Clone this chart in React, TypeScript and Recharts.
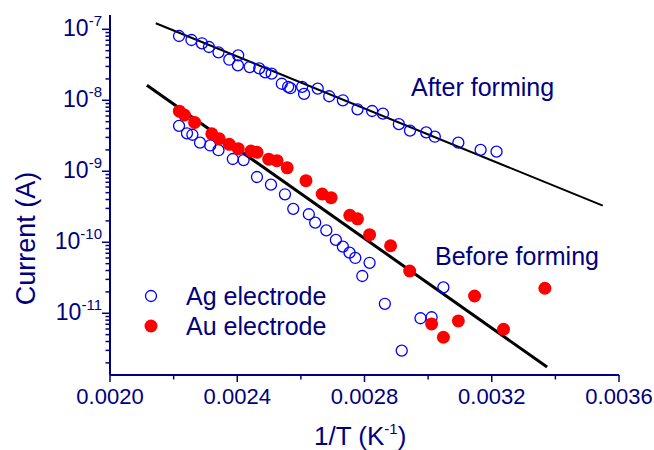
import React from "react";
import { ComposedChart, Scatter, Line, XAxis, YAxis } from "recharts";

const NAVY = "#00007f";
const FONT = "Arial, 'Liberation Sans', sans-serif";

// Ag electrode, after forming (upper branch)
const agAfterX = [0.002217, 0.002256, 0.002289, 0.002311, 0.002341, 0.002375, 0.002403, 0.002402, 0.002439, 0.002469, 0.002488, 0.002508, 0.00254, 0.00256, 0.002567, 0.002604, 0.00261, 0.002653, 0.002689, 0.002732, 0.002778, 0.002824, 0.002858, 0.002908, 0.002943, 0.002994, 0.003021, 0.003095, 0.003165, 0.003215];
const agAfterY = [8.04e-8, 7.07e-8, 6.35e-8, 5.63e-8, 4.74e-8, 3.73e-8, 4.3e-8, 3.11e-8, 2.94e-8, 2.82e-8, 2.48e-8, 2.37e-8, 1.71e-8, 1.55e-8, 1.48e-8, 1.55e-8, 1.23e-8, 1.46e-8, 1.14e-8, 1.0e-8, 7.47e-9, 7.07e-9, 6.48e-9, 4.61e-9, 3.73e-9, 3.54e-9, 3.07e-9, 2.53e-9, 2.0e-9, 1.89e-9];

// Ag electrode, before forming
const agBeforeX = [0.002217, 0.002242, 0.002259, 0.002283, 0.002315, 0.002341, 0.002386, 0.00242, 0.002462, 0.002506, 0.00255, 0.002576, 0.002625, 0.002645, 0.00268, 0.00271, 0.002732, 0.002753, 0.002771, 0.002816, 0.002793, 0.002864, 0.002976, 0.003011, 0.003048, 0.002917];
const agBeforeY = [4.37e-9, 3.43e-9, 3.27e-9, 2.53e-9, 2.31e-9, 1.98e-9, 1.49e-9, 1.44e-9, 8.31e-10, 6.48e-10, 4.74e-10, 2.96e-10, 2.48e-10, 1.89e-10, 1.47e-10, 1.08e-10, 8.67e-11, 7.14e-11, 6.01e-11, 5.14e-11, 3.35e-11, 1.36e-11, 8.5e-12, 8.78e-12, 2.32e-11, 2.97e-12];

// Au electrode
const auX = [0.002218, 0.002234, 0.002266, 0.00232, 0.002343, 0.002375, 0.002403, 0.002443, 0.002462, 0.002499, 0.002525, 0.002557, 0.002616, 0.002667, 0.002695, 0.002754, 0.002778, 0.002816, 0.002882, 0.002942, 0.003146, 0.003011, 0.003095, 0.003048, 0.003237, 0.003367];
const auY = [7.02e-9, 6.21e-9, 4.87e-9, 3.37e-9, 2.88e-9, 2.4e-9, 2.08e-9, 1.93e-9, 1.85e-9, 1.48e-9, 1.41e-9, 1.12e-9, 7.37e-10, 4.79e-10, 4.25e-10, 2.4e-10, 2.14e-10, 1.28e-10, 8.93e-11, 3.94e-11, 1.75e-11, 7.07e-12, 7.79e-12, 4.59e-12, 5.95e-12, 2.25e-11];

// fitted lines (end points)
const fitAfterX = [0.002144, 0.003549];
const fitAfterY = [1.215e-7, 3.28e-10];
const fitBeforeX = [0.002116, 0.003374];
const fitBeforeY = [1.627e-8, 1.75e-12];

const xMajorTicks = [0.002, 0.0024, 0.0028, 0.0032, 0.0036];
const xTicks = [0.002, 0.0022, 0.0024, 0.0026, 0.0028, 0.003, 0.0032, 0.0034, 0.0036];
const yMajorTicks = [1e-11, 1e-10, 1e-9, 1e-8, 1e-7];
const yTicks = [
  2e-12, 3e-12, 4e-12, 5e-12, 6e-12, 7e-12, 8e-12, 9e-12,
  1e-11, 2e-11, 3e-11, 4e-11, 5e-11, 6e-11, 7e-11, 8e-11, 9e-11,
  1e-10, 2e-10, 3e-10, 4e-10, 5e-10, 6e-10, 7e-10, 8e-10, 9e-10,
  1e-9, 2e-9, 3e-9, 4e-9, 5e-9, 6e-9, 7e-9, 8e-9, 9e-9,
  1e-8, 2e-8, 3e-8, 4e-8, 5e-8, 6e-8, 7e-8, 8e-8, 9e-8,
  1e-7,
];
const xDomain = [0.002, 0.0036];
const yDomain = [1.35e-12, 1.59e-7];

const toPoints = (xs: number[], ys: number[]) => xs.map((x, i) => ({ x, y: ys[i] }));

const agAfter = toPoints(agAfterX, agAfterY);
const agBefore = toPoints(agBeforeX, agBeforeY);
const au = toPoints(auX, auY);
const fitAfter = toPoints(fitAfterX, fitAfterY);
const fitBefore = toPoints(fitBeforeX, fitBeforeY);

const OpenCircle = (p: any) => (
  <circle cx={p.cx} cy={p.cy} r={5.5} fill="none" stroke="#0000ff" strokeWidth={1.3} />
);
const FilledCircle = (p: any) => <circle cx={p.cx} cy={p.cy} r={6.5} fill="#ff0000" />;

const BottomTick = (p: any) => {
  const major = xMajorTicks.includes(p.payload.value);
  return (
    <g>
      <line x1={p.x} x2={p.x} y1={p.y} y2={p.y + (major ? 7 : 4.5)} stroke={NAVY} strokeWidth={1.5} />
      {major && (
        <text x={p.x} y={p.y + 29} textAnchor="middle" fontSize={22} fill={NAVY} fontFamily={FONT}>
          {p.payload.value.toFixed(4)}
        </text>
      )}
    </g>
  );
};

const TopTick = (p: any) => (
  <line x1={p.x} x2={p.x} y1={p.y} y2={p.y + 6.5} stroke={NAVY} strokeWidth={1.5} />
);

const LeftTick = (p: any) => {
  const v = p.payload.value;
  const major = yMajorTicks.includes(v);
  const exp = Math.round(Math.log10(v));
  return (
    <g>
      <line x1={p.x} x2={p.x - (major ? 8 : 4.5)} y1={p.y} y2={p.y} stroke={NAVY} strokeWidth={1.5} />
      {major && (
        <text x={p.x - 8} y={p.y + 7} textAnchor="end" fontSize={23} fill={NAVY} fontFamily={FONT}>
          10<tspan dy={-10} fontSize={15}>{`${exp}`}</tspan>
        </text>
      )}
    </g>
  );
};

const RightTick = (p: any) => {
  const major = yMajorTicks.includes(p.payload.value);
  return <line x1={p.x} x2={p.x - (major ? 7.5 : 4.5)} y1={p.y} y2={p.y} stroke={NAVY} strokeWidth={1.5} />;
};

const legendItems = [
  { name: "Ag electrode", filled: false },
  { name: "Au electrode", filled: true },
];

export default function App() {
  return (
    <div style={{ position: "absolute", left: 0, top: 0, width: 654, height: 450, background: "#fff" }}>
      <ComposedChart width={654} height={450} margin={{ top: 15, right: 35, left: 0, bottom: 0 }}>
        <XAxis
          dataKey="x"
          type="number"
          domain={xDomain}
          ticks={xTicks}
          interval={0}
          height={75}
          tickSize={0}
          tickMargin={0}
          tickLine={false}
          tick={<BottomTick />}
          axisLine={{ stroke: NAVY, strokeWidth: 2 }}
          allowDataOverflow
        />
        <XAxis
          xAxisId="top"
          orientation="top"
          dataKey="x"
          type="number"
          domain={xDomain}
          ticks={xTicks}
          interval={0}
          height={0}
          tickSize={0}
          tickMargin={0}
          tickLine={false}
          tick={<TopTick />}
          axisLine={{ stroke: NAVY, strokeWidth: 2 }}
          allowDataOverflow
        />
        <YAxis
          dataKey="y"
          type="number"
          scale="log"
          domain={yDomain}
          ticks={yTicks}
          interval={0}
          width={110}
          tickSize={0}
          tickMargin={0}
          tickLine={false}
          tick={<LeftTick />}
          axisLine={{ stroke: NAVY, strokeWidth: 2 }}
          allowDataOverflow
        />
        <YAxis
          yAxisId="r"
          orientation="right"
          dataKey="y"
          type="number"
          scale="log"
          domain={yDomain}
          ticks={yTicks}
          interval={0}
          width={0}
          tickSize={0}
          tickMargin={0}
          tickLine={false}
          tick={<RightTick />}
          axisLine={{ stroke: NAVY, strokeWidth: 2 }}
          allowDataOverflow
        />
        <Line data={fitAfter} dataKey="y" stroke="#000" strokeWidth={2} dot={false} isAnimationActive={false} />
        <Line data={fitBefore} dataKey="y" stroke="#000" strokeWidth={3} dot={false} isAnimationActive={false} />
        <Scatter data={agAfter} dataKey="y" shape={<OpenCircle />} isAnimationActive={false} />
        <Scatter data={agBefore} dataKey="y" shape={<OpenCircle />} isAnimationActive={false} />
        <Scatter data={au} dataKey="y" shape={<FilledCircle />} isAnimationActive={false} />
      </ComposedChart>
      <svg width={654} height={450} style={{ position: "absolute", left: 0, top: 0, pointerEvents: "none" }} fontFamily={FONT}>
        <text x={411} y={96} fontSize={25} fill={NAVY}>After forming</text>
        <text x={435} y={265} fontSize={25} fill={NAVY}>Before forming</text>
        {legendItems.map((item, i) => (
          <g key={item.name}>
            {item.filled ? (
              <circle cx={151} cy={296 + i * 30} r={6.5} fill="#ff0000" />
            ) : (
              <circle cx={151} cy={296 + i * 30} r={5.5} fill="none" stroke="#0000ff" strokeWidth={1.3} />
            )}
            <text x={186} y={305 + i * 30} fontSize={25} fill={NAVY}>{item.name}</text>
          </g>
        ))}
        <text x={314} y={445} fontSize={26} fill={NAVY}>
          1/T (K<tspan dy={-11} fontSize={15}>-1</tspan><tspan dy={11}>)</tspan>
        </text>
        <text x={35} y={238.5} fontSize={27} fill={NAVY} textAnchor="middle" transform="rotate(-90 35 238.5)">
          Current (A)
        </text>
      </svg>
    </div>
  );
}
